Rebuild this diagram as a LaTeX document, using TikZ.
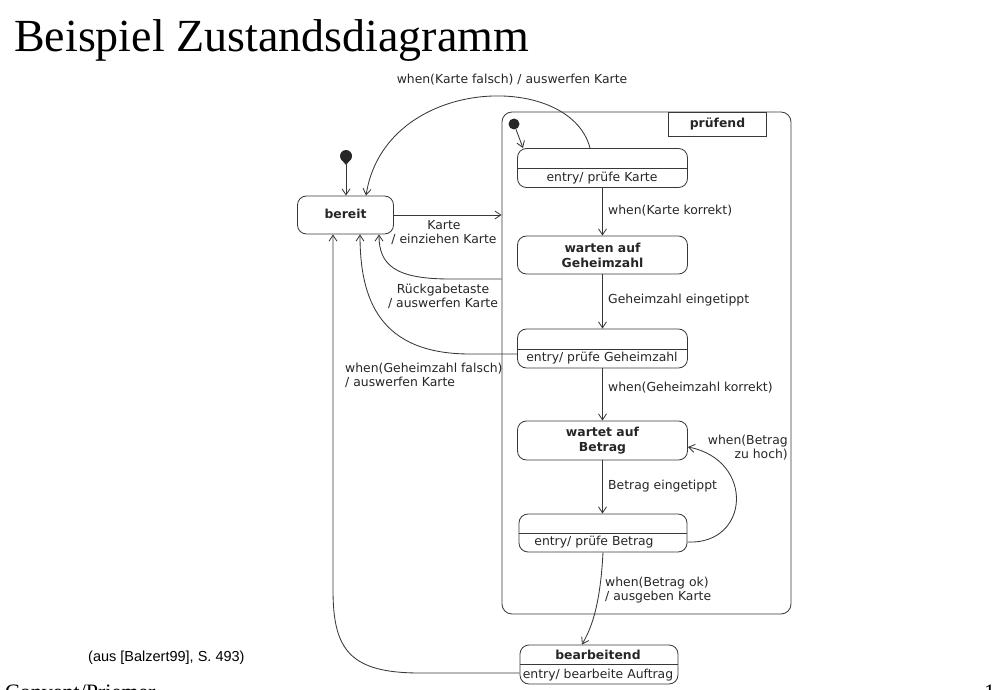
\documentclass[tikz,border=0pt]{standalone}
\usepackage{fontspec}
\setmainfont{DejaVu Sans}
\newfontfamily\serif{Liberation Serif}
\newfontfamily\arial{Liberation Sans}
\usetikzlibrary{arrows.meta}
\begin{document}
\begin{tikzpicture}[x=1pt,y=-1pt,
  every node/.style={font=\fontsize{12.4}{14.2}\selectfont, text=black!85, inner sep=0pt},
  line/.style={draw=black!78, line width=0.85pt},
  trans/.style={line, -{Straight Barb[length=6pt,width=8pt]}},
  state/.style={line, rounded corners=9pt, minimum width=170pt, minimum height=39pt},
  bold/.style={font=\fontsize{12.4}{15}\selectfont\bfseries, align=center},
  lbl/.style={anchor=west, align=left},
]
\useasboundingbox (0,0) rectangle (993,690);
\clip (0,0) rectangle (993,690);

\node[anchor=base west, font=\serif\fontsize{46}{50}\selectfont, text=black] (title) at (14,52) {Beispiel Zustandsdiagramm};

% bereit
\node[state, minimum width=96pt, minimum height=38pt] (bereit) at (345.5,215) {};
\node[bold] (bereitT) at (345.5,214) {bereit};
\node[circle, fill=black!85, minimum size=12pt] (init1) at (346,156) {};
\fill[black!85] (341,159) -- (346,165) -- (351,159) -- cycle;
\draw[trans] (init1) -- (bereit.north -| init1);

% pruefend superstate
\node[line, rounded corners=10pt, minimum width=289pt, minimum height=502pt] (pr) at (646.5,363) {};
\node[line, bold, minimum width=98pt, minimum height=24pt] (prT) at (717.5,124) {prüfend};
\node[circle, fill=black!85, minimum size=11pt] (init2) at (514,124) {};

% states
\node[state] (s1) at (602.5,168) {};
\draw[line] (s1.west |- 0,168) -- (s1.east |- 0,168);
\node (s1T) at (602,178) {entry/ prüfe Karte};
\draw[trans] (init2) -- (s1.north -| 523,0);

\node[state, minimum height=38pt] (w1) at (602.5,255) {};
\node[bold] (w1T) at (602.5,255) {warten auf\\Geheimzahl};

\node[state] (s2) at (602.5,348.5) {};
\draw[line] (s2.west |- 0,349) -- (s2.east |- 0,349);
\node (s2T) at (602,358) {entry/ prüfe Geheimzahl};

\node[state] (w2) at (602.5,440.5) {};
\node[bold] (w2T) at (602.5,441) {wartet auf\\Betrag};

\node[state, minimum width=168pt, minimum height=38pt] (s3) at (603,533) {};
\draw[line] (s3.west |- 0,533) -- (s3.east |- 0,533);
\node (s3T) at (594,542) {entry/ prüfe Betrag};

\node[state, minimum width=158pt] (bearb) at (599,664.5) {};
\draw[line] (bearb.west |- 0,664.5) -- (bearb.east |- 0,664.5);
\node[bold] (bearbT) at (598,655) {bearbeitend};
\node (bearbE) at (598,675) {entry/ bearbeite Auftrag};

% vertical transitions
\draw[trans] (s1) -- (w1);
\draw[trans] (w1) -- (s2);
\draw[trans] (s2) -- (w2);
\draw[trans] (w2.south) -- (w2.south |- s3.north);

% labels
\node[lbl] (l1) at (608,211) {when(Karte korrekt)};
\node[lbl] (l2) at (608,300) {Geheimzahl eingetippt};
\node[lbl] (l3) at (608,388) {when(Geheimzahl korrekt)};
\node[lbl] (l4) at (608,486) {Betrag eingetippt};
\node[lbl] (l5) at (605,590) {when(Betrag ok)\\/ ausgeben Karte};
\node[anchor=east, align=right] (l6) at (788,447.5) {when(Betrag\\zu hoch)};
\node[align=center] (l7) at (444,232.5) {Karte\\/ einziehen Karte};
\node[align=center] (l8) at (443,296.5) {Rückgabetaste\\/ auswerfen Karte};
\node[lbl] (l9) at (345,375) {when(Geheimzahl falsch)\\/ auswerfen Karte};
\node (l10) at (512,80) {when(Karte falsch) / auswerfen Karte};

% other transitions
\draw[trans] (bereit.east) -- (pr.west |- bereit.east);
\draw[trans] (s1.north -| 590,0) .. controls (570,70) and (385,75) .. (bereit.north -| 366,0);
\draw[trans] (pr.west |- 0,279) -- (450,279) .. controls (395,279) and (379,265) .. (bereit.south -| 379,0);
\draw[trans] (s2.west |- 0,354) -- (470,354) .. controls (380,354) and (360,300) .. (bereit.south -| 360,0);
\draw[trans] (bearb.west |- 0,673) -- (420,673) .. controls (350,673) and (333,650) .. (333,590) -- (bereit.south -| 333,0);
\draw[trans] (s3.east |- 0,542) .. controls (750,545) and (755,460) .. (w2.east |- 0,447);
\draw[trans] (s3.south) .. controls (600,610) and (590,630) .. (bearb.north -| 582,0);

% source and footer
\node[anchor=base west, font=\arial\fontsize{14.5}{16}\selectfont, text=black] (src) at (88,661) {(aus [Balzert99], S. 493)};
\node[anchor=base west, font=\serif\fontsize{22}{24}\selectfont, text=black] (foot) at (5,699) {Convent/Priemer};
\node[anchor=base west, font=\serif\fontsize{22}{24}\selectfont, text=black] (page) at (984,699) {1};
\end{tikzpicture}
\end{document}
